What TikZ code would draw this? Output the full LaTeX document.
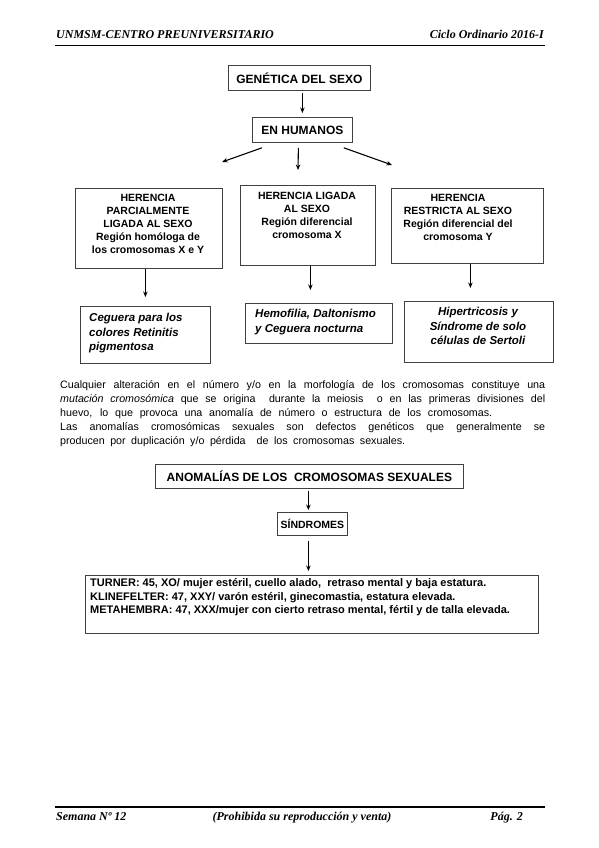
\documentclass[tikz,border=0pt]{standalone}
\usepackage{fontspec}
\setmainfont{Liberation Sans}
\newfontfamily\hdrfont{Liberation Serif}
\usetikzlibrary{arrows.meta,calc}
\tikzset{
  box/.style={draw=black!75, line width=0.8pt, fill=white, inner sep=0pt, anchor=north west},
  arr/.style={-{Stealth[length=5.5pt,width=4.5pt]}, line width=1.1pt},
  hdr/.style={font=\hdrfont\bfseries\itshape\fontsize{12}{13}\selectfont, inner sep=0pt},
  bt/.style={font=\bfseries\fontsize{10.5}{13}\selectfont, align=center, inner sep=0pt},
  big/.style={font=\bfseries\fontsize{12}{13}\selectfont, inner sep=0pt},
  it/.style={font=\bfseries\itshape\fontsize{11.5}{14.5}\selectfont, inner sep=0pt},
  para/.style={font=\fontsize{10.7}{14}\selectfont, inner sep=0pt, align=left, anchor=north west},
  syn/.style={font=\bfseries\fontsize{11}{13.5}\selectfont, inner sep=0pt, align=left, anchor=north west}
}
\begin{document}
\begin{tikzpicture}[x=1pt,y=-1pt]
\useasboundingbox[fill=white] (0,0) rectangle (599,848);
% header / footer
\node[hdr, anchor=base west] (h1) at (56,39) {UNMSM-CENTRO PREUNIVERSITARIO};
\node[hdr, anchor=base east] (h2) at (544,39) {Ciclo Ordinario 2016-I};
\draw[line width=1.3pt] (55,45.5) -- (545,45.5);
\draw[line width=1.3pt] (55,807) -- (545,807);
\node[hdr, anchor=base west] (f1) at (56,820) {Semana Nº 12};
\node[hdr, anchor=base] (f2) at (302,820) {(Prohibida su reproducción y venta)};
\node[hdr, anchor=base east] (f3) at (523,820) {Pág. 2};

% top tree
\node[box, minimum width=142pt, minimum height=25pt] (gen) at (228,65) {};
\node[big] (gent) at (gen.center) {GENÉTICA DEL SEXO};
\node[box, minimum width=100pt, minimum height=25pt] (hum) at (252,117) {};
\node[big] (humt) at (hum.center) {EN HUMANOS};
\draw[arr, shorten <=2pt, shorten >=4pt] (hum.north |- gen.south) -- (hum.north);

\node[box, minimum width=147pt, minimum height=80pt] (A) at (75,188) {};
\node[bt, anchor=north] (At) at (148,194) {HERENCIA\\PARCIALMENTE\\LIGADA AL SEXO\\Región homóloga de\\los cromosomas X e Y};
\node[box, minimum width=135pt, minimum height=80pt] (B) at (240,185) {};
\node[bt, anchor=north] (Bt) at (307,192) {HERENCIA LIGADA\\AL SEXO\\Región diferencial\\cromosoma X};
\node[box, minimum width=152pt, minimum height=75pt] (C) at (391,188) {};
\node[bt, anchor=north] (Ct) at (458,194) {HERENCIA\\RESTRICTA AL SEXO\\Región diferencial del\\cromosoma Y};

\coordinate (tA) at (222,162);
\coordinate (tB) at (298,170);
\coordinate (tC) at (392,165);
\draw[arr] ($(hum.south west)+(10,5)$) -- (tA);
\draw[arr] ($(hum.south)+(-4,5)$) -- (tB);
\draw[arr] ($(hum.south east)+(-9,5)$) -- (tC);

\node[box, minimum width=130pt, minimum height=57pt] (D) at (80,306) {};
\node[it, align=left, anchor=north west] (Dt) at (89,313) {Ceguera para los\\colores Retinitis\\pigmentosa};
\node[box, minimum width=147pt, minimum height=40pt] (E) at (245,303) {};
\node[it, align=left, anchor=north west] (Et) at (255,309) {Hemofilia, Daltonismo\\y Ceguera nocturna};
\node[box, minimum width=149pt, minimum height=61pt] (F) at (404,301) {};
\node[it, align=center, anchor=north] (Ft) at (478,307) {Hipertricosis y\\Síndrome de solo\\células de Sertoli};

\draw[arr, shorten >=9pt] (D.north |- A.south) -- (D.north);
\draw[arr] ($(B.south)+(2.5,0)$) -- ($(B.south |- E.north)+(2.5,-13)$);
\draw[arr] ($(C.south)+(3,0)$) -- ($(C.south |- F.north)+(3,-13)$);

% paragraph
\node[para] (par) at (60,380) {%
\makebox[485pt][s]{Cualquier alteración en el número y/o en la morfología de los cromosomas constituye una}\\
\makebox[485pt][s]{\textit{mutación cromosómica} que se origina \ durante la meiosis \ o en las primeras divisiones del}\\
\makebox[432pt][s]{huevo, lo que provoca una anomalía de número o estructura de los cromosomas.}\\
\makebox[485pt][s]{Las anomalías cromosómicas sexuales son defectos genéticos que generalmente se}\\
\makebox[345pt][s]{producen por duplicación y/o pérdida \ de los cromosomas sexuales.}};

% bottom tree
\node[box, minimum width=308pt, minimum height=24pt] (anom) at (155,464) {};
\node[big] (anomt) at (anom.center) {ANOMALÍAS DE LOS \ CROMOSOMAS SEXUALES};
\node[box, minimum width=70pt, minimum height=23pt] (sind) at (277,512) {};
\node[bt, font=\bfseries\fontsize{10.5}{12}\selectfont] (sindt) at (sind.center) {SÍNDROMES};
\node[box, minimum width=453pt, minimum height=58pt] (syn) at (85,575) {};
\node[syn] (synt) at (90,578.5) {TURNER: 45, XO/ mujer estéril, cuello alado, \ retraso mental y baja estatura.\\
KLINEFELTER: 47, XXY/ varón estéril, ginecomastia, estatura elevada.\\
METAHEMBRA: 47, XXX/mujer con cierto retraso mental, fértil y de talla elevada.};

\draw[arr, shorten <=2pt, shorten >=2pt] ($(anom.south)+(-1,0)$) -- ($(anom.south |- sind.north)+(-1,0)$);
\draw[arr, shorten <=5pt, shorten >=4pt] ($(sind.south)+(-4,0)$) -- ($(sind.south |- syn.north)+(-4,0)$);
\end{tikzpicture}
\end{document}
